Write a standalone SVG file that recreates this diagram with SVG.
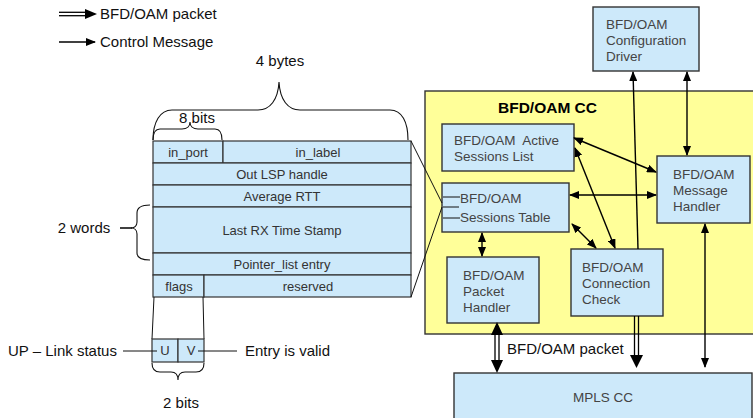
<svg xmlns="http://www.w3.org/2000/svg" width="753" height="418" viewBox="0 0 753 418">
<defs>
<marker id="ah" markerUnits="userSpaceOnUse" markerWidth="10" markerHeight="8" refX="9" refY="4" orient="auto-start-reverse">
<path d="M0,0 L10,4 L0,8 z" fill="#000"/>
</marker>
</defs>
<style>
text{font-family:"Liberation Sans",Arial,sans-serif;}
.lbl{font-size:15px;fill:#111;}
.cell{fill:#CDE9FA;stroke:#333;stroke-width:1.2;}
.ct{font-size:13px;fill:#333;text-anchor:middle;}
.box{fill:#CDE9FA;stroke:#333;stroke-width:1.4;}
.bt{font-size:13.5px;fill:#444;}
.br{fill:none;stroke:#111;stroke-width:1.1;}
.ctl{stroke:#000;stroke-width:1.4;fill:none;marker-end:url(#ah);}
.ctl2{stroke:#000;stroke-width:1.4;fill:none;marker-end:url(#ah);marker-start:url(#ah);}
.pk{stroke:#000;stroke-width:1.3;fill:none;}
.thin{stroke:#111;stroke-width:1;fill:none;}
</style>

<g id="legend">
<line x1="59" y1="12.3" x2="87" y2="12.3" class="pk"/>
<line x1="59" y1="15.7" x2="87" y2="15.7" class="pk"/>
<polygon points="85,9 97,14 85,19" fill="#000"/>
<text x="100" y="19" class="lbl">BFD/OAM packet</text>
<line x1="59" y1="42" x2="95" y2="42" class="ctl"/>
<text x="100" y="47" class="lbl">Control Message</text>
</g>

<g id="braces">
<text x="280" y="66" class="lbl" text-anchor="middle">4 bytes</text>
<path class="br" d="M153,140 C153,122 160,110 172,110 L258,110 C270,110 278,100 279,82 C280,100 288,110 300,110 L390,110 C402,110 408,122 408,140"/>
<text x="197" y="123" class="lbl" text-anchor="middle">8 bits</text>
<path class="br" d="M153,140 C153,133 155,129 160,129 L182,129 C187,129 190,126 190,122 C190,126 193,129 198,129 L215,129 C220,129 222,133 222,140"/>
<text x="84" y="233" class="lbl" text-anchor="middle">2 words</text>
<line x1="120" y1="228" x2="132" y2="228" stroke="#111" stroke-width="1.6"/>
<path class="br" d="M150,205 C142,205 137,207 137,213 L137,222 C137,226 134,228 131,228 C134,228 137,230 137,234 L137,253 C137,258 142,260 150,260"/>
<path class="br" d="M152,363 C152,369 154,372 160,372 L171,372 C176,372 178,375 178,380 C178,375 180,372 185,372 L196,372 C202,372 204,369 204,363"/>
<text x="181" y="408" class="lbl" text-anchor="middle">2 bits</text>
</g>

<g id="table">
<rect x="153" y="141" width="70" height="22" class="cell"/>
<rect x="223" y="141" width="188" height="22" class="cell"/>
<text x="188" y="156.5" class="ct">in_port</text>
<text x="318" y="156.5" class="ct">in_label</text>
<rect x="153" y="163" width="258" height="22" class="cell"/>
<text x="282" y="178.5" class="ct">Out LSP handle</text>
<rect x="153" y="185" width="258" height="22" class="cell"/>
<text x="282" y="200.5" class="ct">Average RTT</text>
<rect x="153" y="207" width="258" height="46" class="cell"/>
<text x="282" y="234.5" class="ct">Last RX Time Stamp</text>
<rect x="153" y="253" width="258" height="22" class="cell"/>
<text x="282" y="268.5" class="ct">Pointer_list entry</text>
<rect x="153" y="275" width="51" height="22" class="cell"/>
<rect x="204" y="275" width="207" height="22" class="cell"/>
<text x="179" y="290.5" class="ct">flags</text>
<text x="308" y="290.5" class="ct">reserved</text>
</g>

<g id="flagbits">
<line x1="154" y1="297" x2="152" y2="339" class="thin"/>
<line x1="203" y1="297" x2="204" y2="339" class="thin"/>
<rect x="152" y="339" width="26" height="23" class="cell"/>
<rect x="178" y="339" width="26" height="23" class="cell"/>
<text x="165" y="355" class="ct">U</text>
<text x="191" y="355" class="ct">V</text>
<line x1="123" y1="351" x2="157" y2="351" class="thin"/>
<line x1="198" y1="351" x2="237" y2="351" class="thin"/>
<text x="8" y="356" class="lbl">UP – Link status</text>
<text x="245" y="356" class="lbl">Entry is valid</text>
</g>

<g id="cc">
<rect x="425" y="91" width="340" height="243" fill="#FFFF99" stroke="#333" stroke-width="1.4"/>
<text x="547.5" y="113" font-size="15.5" font-weight="bold" fill="#000" text-anchor="middle">BFD/OAM CC</text>
</g>

<g id="config">
<rect x="593" y="7" width="106" height="64" class="box"/>
<text x="606" y="29" class="bt">BFD/OAM</text>
<text x="606" y="45" class="bt">Configuration</text>
<text x="606" y="61" class="bt">Driver</text>
</g>

<g id="active">
<rect x="442" y="124" width="132" height="47" class="box"/>
<text x="454" y="145" class="bt" xml:space="preserve">BFD/OAM  Active</text>
<text x="454" y="161" class="bt">Sessions List</text>
</g>

<g id="sessions">
<rect x="442" y="183" width="127" height="49" class="box"/>
<text x="460" y="203" class="bt">BFD/OAM</text>
<text x="460" y="222" class="bt">Sessions Table</text>
<line x1="443" y1="197" x2="460" y2="197" class="thin"/>
<line x1="443" y1="207" x2="459" y2="207" class="thin"/>
<line x1="443" y1="218" x2="460" y2="218" class="thin"/>
</g>

<g id="message">
<rect x="657" y="156" width="93" height="67" class="box"/>
<text x="673" y="179" class="bt">BFD/OAM</text>
<text x="673" y="195" class="bt">Message</text>
<text x="673" y="211" class="bt">Handler</text>
</g>

<g id="packet">
<rect x="447" y="257" width="92" height="66" class="box"/>
<text x="463" y="280" class="bt">BFD/OAM</text>
<text x="463" y="296" class="bt">Packet</text>
<text x="463" y="312" class="bt">Handler</text>
</g>

<g id="check">
<rect x="571" y="249" width="92" height="67" class="box"/>
<text x="582" y="272" class="bt">BFD/OAM</text>
<text x="582" y="288" class="bt">Connection</text>
<text x="582" y="304" class="bt">Check</text>
</g>

<g id="mpls">
<rect x="454" y="373" width="298" height="50" class="box"/>
<text x="603" y="402" class="bt" text-anchor="middle">MPLS CC</text>
</g>

<g id="connectors">
<line x1="411" y1="141" x2="442" y2="203" class="thin"/>
<line x1="411" y1="297" x2="442" y2="207" class="thin"/>
<line x1="574" y1="138" x2="656" y2="172" class="ctl2"/>
<line x1="570" y1="195" x2="656" y2="195" class="ctl2"/>
<line x1="575" y1="148" x2="615" y2="248" class="ctl2"/>
<line x1="572" y1="224" x2="596" y2="248" class="ctl2"/>
<line x1="482" y1="233" x2="482" y2="256" class="ctl2"/>
<line x1="638" y1="249" x2="633" y2="72" class="ctl"/>
<line x1="687" y1="72" x2="687" y2="155" class="ctl2"/>
<line x1="705" y1="224" x2="705" y2="367" class="ctl2"/>
<line x1="495" y1="334" x2="495" y2="361" class="pk"/>
<line x1="499" y1="334" x2="499" y2="361" class="pk"/>
<polygon points="497,322 503,335 491,335" fill="#000"/>
<polygon points="497,373 503,360 491,360" fill="#000"/>
<line x1="634.5" y1="316" x2="634.5" y2="356" class="pk"/>
<line x1="638.5" y1="316" x2="638.5" y2="356" class="pk"/>
<polygon points="636.5,368 643,355 630,355" fill="#000"/>
<text x="507" y="354" class="lbl">BFD/OAM packet</text>
</g>
</svg>
